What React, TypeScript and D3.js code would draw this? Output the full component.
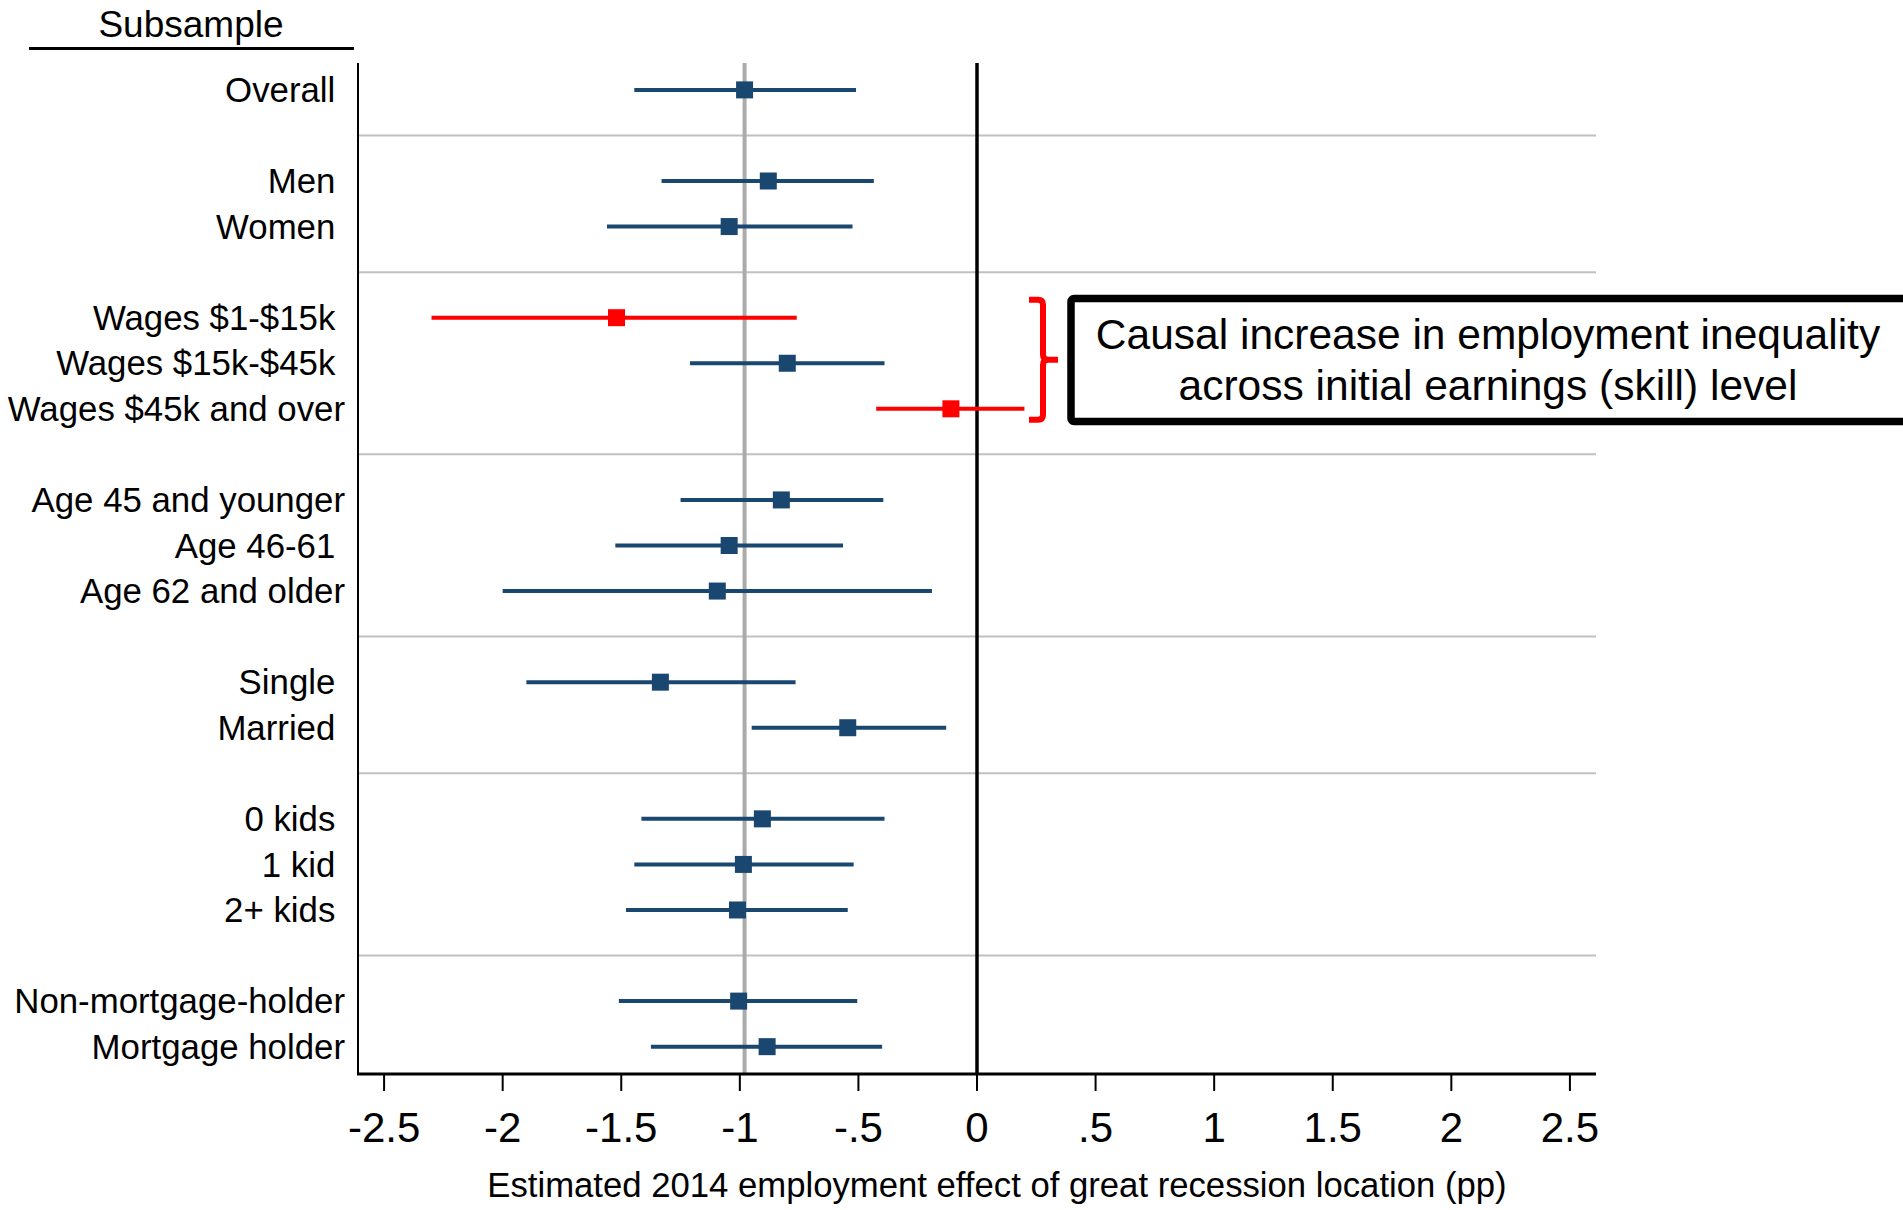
import React from "react";
import * as d3 from "d3";

const labels = [
  "Overall ", "Men ", "Women ", "Wages $1-$15k ", "Wages $15k-$45k ", "Wages $45k and over",
  "Age 45 and younger", "Age 46-61 ", "Age 62 and older", "Single ", "Married ",
  "0 kids ", "1 kid ", "2+ kids ", "Non-mortgage-holder", "Mortgage holder",
];
const groupIndex = [0, 1, 1, 2, 2, 2, 3, 3, 3, 4, 4, 5, 5, 5, 6, 6];
const estimates = [-0.98, -0.88, -1.045, -1.52, -0.80, -0.11, -0.825, -1.045, -1.095, -1.335, -0.545, -0.905, -0.985, -1.01, -1.005, -0.885];
const lowers = [-1.445, -1.33, -1.56, -2.30, -1.21, -0.425, -1.25, -1.525, -2.0, -1.90, -0.95, -1.415, -1.445, -1.48, -1.51, -1.375];
const uppers = [-0.51, -0.435, -0.525, -0.76, -0.39, 0.20, -0.395, -0.565, -0.19, -0.765, -0.13, -0.39, -0.52, -0.545, -0.505, -0.40];
const highlighted = [false, false, false, true, false, true, false, false, false, false, false, false, false, false, false, false];
const xTicks = [-2.5, -2, -1.5, -1, -0.5, 0, 0.5, 1, 1.5, 2, 2.5];
const xTickLabels = ["-2.5", "-2", "-1.5", "-1", "-.5", "0", ".5", "1", "1.5", "2", "2.5"];
const annotationLines = ["Causal increase in employment inequality", "across initial earnings (skill) level"];
const xTitle = "Estimated 2014 employment effect of great recession location (pp)";
const headerText = "Subsample";

const NAVY = "#1a476f";
const RED = "#ff0000";
const FONT = "'Liberation Sans', Arial, Helvetica, sans-serif";

export default function App() {
  const left = 358, right = 1596, top = 63, bottom = 1074;
  const x = d3.scaleLinear().domain([-2.61, 2.61]).range([left, right]);
  const slots = labels.map((_, i) => i + groupIndex[i]);
  const nSlots = slots[slots.length - 1];
  const y = d3.scaleLinear().domain([-0.59, nSlots + 0.6]).range([top, bottom]);
  const separators: number[] = [];
  for (let i = 1; i < labels.length; i++) {
    if (groupIndex[i] !== groupIndex[i - 1]) separators.push(slots[i] - 1);
  }
  const ms = 17;
  const refX = x(estimates[0]);

  // bracket spans the wages group (rows 3..5)
  const b0 = y(slots[3]) - 18;
  const b1 = y(slots[5]) + 11;
  const bx = 1043;
  const bMid = (b0 + b1) / 2;
  const r = 5;

  return (
    <svg width={1903} height={1210} style={{ position: "absolute", left: 0, top: 0, background: "#fff" }} fontFamily={FONT}>
      <rect x={0} y={0} width={1903} height={1210} fill="#fff" />
      {/* header */}
      <text x={191} y={37} fontSize={37} textAnchor="middle" fill="#000">{headerText}</text>
      <line x1={29} x2={354} y1={48.5} y2={48.5} stroke="#000" strokeWidth={3} />

      {/* separators */}
      {separators.map((s, i) => (
        <line key={"s" + i} x1={left} x2={right} y1={y(s)} y2={y(s)} stroke="#c0c0c0" strokeWidth={2} />
      ))}
      {/* reference lines */}
      <line x1={refX} x2={refX} y1={top} y2={bottom} stroke="#ababab" strokeWidth={4} />
      <line x1={x(0)} x2={x(0)} y1={top} y2={bottom} stroke="#000" strokeWidth={3.5} />

      {/* CIs and markers */}
      {labels.map((_, i) => {
        const c = highlighted[i] ? RED : NAVY;
        const yy = y(slots[i]);
        return (
          <g key={"r" + i}>
            <line x1={x(lowers[i])} x2={x(uppers[i])} y1={yy} y2={yy} stroke={c} strokeWidth={4} />
            <rect x={x(estimates[i]) - ms / 2} y={yy - ms / 2} width={ms} height={ms} fill={c} />
          </g>
        );
      })}

      {/* row labels */}
      {labels.map((l, i) => (
        <text key={"l" + i} x={345} y={y(slots[i])} dy="0.35em" fontSize={34.8} textAnchor="end" fill="#000"
          style={{ whiteSpace: "pre" }} xmlSpace="preserve">{l}</text>
      ))}

      {/* axes */}
      <line x1={left} x2={left} y1={top} y2={bottom + 1} stroke="#000" strokeWidth={2} />
      <line x1={left - 1} x2={right} y1={bottom} y2={bottom} stroke="#000" strokeWidth={3} />
      {xTicks.map((t, i) => (
        <g key={"t" + i}>
          <line x1={x(t)} x2={x(t)} y1={bottom} y2={bottom + 17} stroke="#000" strokeWidth={2} />
          <text x={x(t)} y={1142} fontSize={42} textAnchor="middle" fill="#000">{xTickLabels[i]}</text>
        </g>
      ))}
      <text x={997} y={1197} fontSize={34.7} textAnchor="middle" fill="#000">{xTitle}</text>

      {/* bracket */}
      <path
        d={`M1029,${b0} L${bx - r},${b0} Q${bx},${b0} ${bx},${b0 + r} L${bx},${bMid - r} Q${bx},${bMid} ${bx + r},${bMid} L1058,${bMid} M${bx + r},${bMid} Q${bx},${bMid} ${bx},${bMid + r} L${bx},${b1 - r} Q${bx},${b1} ${bx - r},${b1} L1029,${b1}`}
        fill="none" stroke={RED} strokeWidth={6} strokeLinejoin="round" strokeLinecap="butt" />

      {/* annotation box */}
      <rect x={1071} y={298.5} width={850} height={123} fill="#fff" stroke="#000" strokeWidth={7.5} rx={3} />
      {annotationLines.map((t, i) => (
        <text key={"a" + i} x={1488} y={349 + i * 51} fontSize={42.5} textAnchor="middle" fill="#000">{t}</text>
      ))}
    </svg>
  );
}
